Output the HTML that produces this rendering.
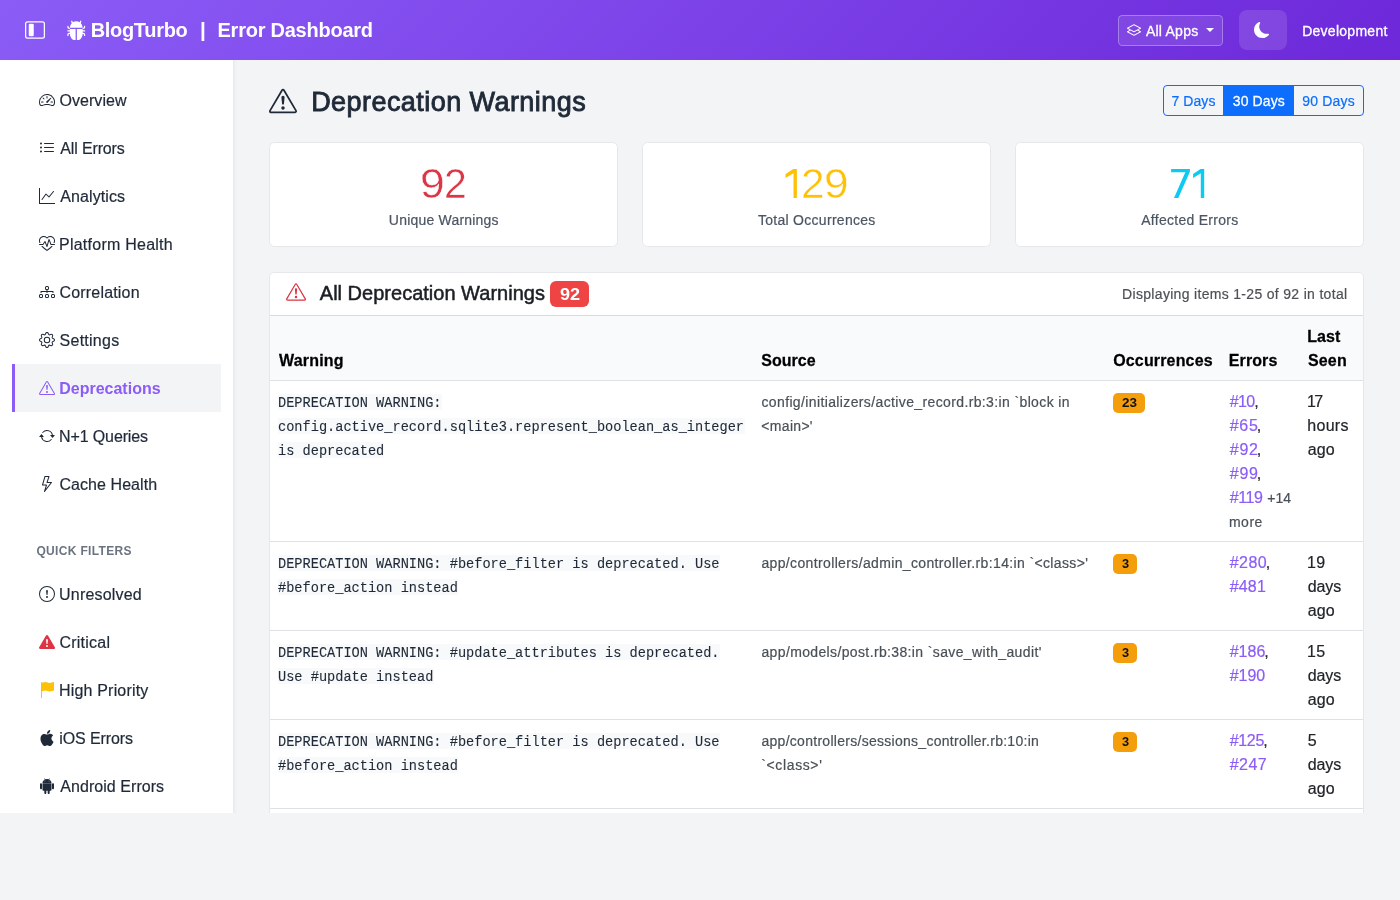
<!DOCTYPE html>
<html lang="en"><head><meta charset="utf-8"><title>Deprecation Warnings - Error Dashboard</title><style>
html,body{margin:0;padding:0;}
body{width:1400px;height:900px;overflow:hidden;background:#f3f4f6;font-family:"Liberation Sans",sans-serif;position:relative;}
#app{position:absolute;left:0;top:0;width:1400px;height:900px;will-change:transform;}
.t{position:absolute;white-space:pre;display:block;-webkit-text-stroke:0.2px;}
.i{position:absolute;display:block;}
.b{position:absolute;box-sizing:border-box;}
</style></head>
<body>
<div id="app">
<div class="b" style="left:0px;top:0px;width:1400px;height:60px;background:linear-gradient(135deg,#8b5cf6 0%,#6d28d9 100%);"></div>
<svg class="i" style="left:25px;top:20px;" width="20" height="20" viewBox="0 0 16 16" fill="#fff"><path d="M14 2a1 1 0 0 1 1 1v10a1 1 0 0 1-1 1H2a1 1 0 0 1-1-1V3a1 1 0 0 1 1-1zM2 1a2 2 0 0 0-2 2v10a2 2 0 0 0 2 2h12a2 2 0 0 0 2-2V3a2 2 0 0 0-2-2z"/><path d="M3 4a1 1 0 0 1 1-1h2a1 1 0 0 1 1 1v8a1 1 0 0 1-1 1H4a1 1 0 0 1-1-1z"/></svg>
<svg class="i" style="left:65.8px;top:19.7px;" width="20.5" height="20.5" viewBox="0 0 16 16" fill="#fff"><path d="M4.978.855a.5.5 0 1 0-.956.29l.41 1.352A5 5 0 0 0 3 6h10a5 5 0 0 0-1.432-3.503l.41-1.352a.5.5 0 1 0-.956-.29l-.291.956A5 5 0 0 0 8 1a5 5 0 0 0-2.731.811l-.29-.956z"/><path d="M13 6v1H8.5v8.975A5 5 0 0 0 13 11h.5a.5.5 0 0 1 .5.5v.5a.5.5 0 1 0 1 0v-.5a1.5 1.5 0 0 0-1.5-1.5H13V9h1.5a.5.5 0 0 0 0-1H13V7h.5A1.5 1.5 0 0 0 15 5.5V5a.5.5 0 0 0-1 0v.5a.5.5 0 0 1-.5.5zm-5.5 9.975V7H3V6h-.5a.5.5 0 0 1-.5-.5V5a.5.5 0 0 0-1 0v.5A1.5 1.5 0 0 0 2.5 7H3v1H1.5a.5.5 0 0 0 0 1H3v1h-.5A1.5 1.5 0 0 0 1 11.5v.5a.5.5 0 1 0 1 0v-.5a.5.5 0 0 1 .5-.5H3a5 5 0 0 0 4.5 4.975"/></svg>
<span class="t" style="left:90.70px;top:19px;font-size:20px;line-height:22px;color:#fff;font-weight:700;-webkit-text-stroke:0;letter-spacing:-0.313px;transform:scale(1.0000,1.0400);transform-origin:0 18px;">BlogTurbo</span>
<span class="t" style="left:200.04px;top:19px;font-size:20px;line-height:22px;color:#fff;font-weight:700;-webkit-text-stroke:0;transform:scale(1.0385,1.0400);transform-origin:0 18px;">|</span>
<span class="t" style="left:217.50px;top:19px;font-size:20px;line-height:22px;color:#fff;font-weight:700;-webkit-text-stroke:0;letter-spacing:-0.243px;transform:scale(1.0000,1.0400);transform-origin:0 18px;">Error Dashboard</span>
<div class="b" style="left:1118px;top:15px;width:105px;height:31px;background:rgba(255,255,255,.1);border:1px solid rgba(255,255,255,.3);border-radius:4.5px;"></div>
<svg class="i" style="left:1127.2px;top:23.4px;" width="14" height="14" viewBox="0 0 16 16" fill="#fff"><path d="M8.235 1.559a.5.5 0 0 0-.47 0l-7.5 4a.5.5 0 0 0 0 .882L3.188 8 .264 9.559a.5.5 0 0 0 0 .882l7.5 4a.5.5 0 0 0 .47 0l7.5-4a.5.5 0 0 0 0-.882L12.813 8l2.922-1.559a.5.5 0 0 0 0-.882zm3.515 7.008L14.438 10 8 13.433 1.562 10 4.25 8.567l3.515 1.874a.5.5 0 0 0 .47 0zM8 9.433 1.562 6 8 2.567 14.438 6z"/></svg>
<span class="t" style="left:1145.90px;top:23px;font-size:14px;line-height:16px;color:#fff;letter-spacing:0.240px;transform:scale(1.0000,1.0400);transform-origin:0 13px;-webkit-text-stroke:0.3px #fff;">All Apps</span>
<div class="b" style="left:1206.2px;top:28.2px;width:0;height:0;border-left:4px solid transparent;border-right:4px solid transparent;border-top:4px solid #fff;"></div>
<div class="b" style="left:1239px;top:10px;width:48px;height:40px;background:rgba(255,255,255,.12);border-radius:8px;"></div>
<svg class="i" style="left:1254.4px;top:22px;" width="16" height="16" viewBox="0 0 16 16" fill="#fff"><path d="M6 .278a.77.77 0 0 1 .08.858 7.2 7.2 0 0 0-.878 3.46c0 4.021 3.278 7.277 7.318 7.277q.792-.001 1.533-.16a.79.79 0 0 1 .81.316.73.73 0 0 1-.031.893A8.35 8.35 0 0 1 8.344 16C3.734 16 0 12.286 0 7.71 0 4.266 2.114 1.312 5.124.06A.75.75 0 0 1 6 .278"/></svg>
<span class="t" style="left:1302.18px;top:23px;font-size:14px;line-height:16px;color:#fff;letter-spacing:0.266px;transform:scale(1.0000,1.0400);transform-origin:0 13px;-webkit-text-stroke:0.3px #fff;">Development</span>
<div class="b" style="left:0px;top:60px;width:233px;height:753px;background:#fff;"></div>
<div class="b" style="left:233px;top:60px;width:4px;height:753px;background:linear-gradient(90deg,#e7e8eb 0%,#eff0f2 50%,#f3f4f6 100%);"></div>
<div class="b" style="left:12px;top:364px;width:209px;height:48px;background:#f3f4f6;border-left:3px solid #8b5cf6;"></div>
<svg class="i" style="left:38.75px;top:92px;" width="16" height="16" viewBox="0 0 16 16" fill="#1f2937"><path d="M8 4a.5.5 0 0 1 .5.5V6a.5.5 0 0 1-1 0V4.5A.5.5 0 0 1 8 4M3.732 5.732a.5.5 0 0 1 .707 0l.915.914a.5.5 0 1 1-.708.708l-.914-.915a.5.5 0 0 1 0-.707M2 10a.5.5 0 0 1 .5-.5h1.586a.5.5 0 0 1 0 1H2.5A.5.5 0 0 1 2 10m9.5 0a.5.5 0 0 1 .5-.5h1.5a.5.5 0 0 1 0 1H12a.5.5 0 0 1-.5-.5m.754-4.246a.39.39 0 0 0-.527-.02L7.547 9.31a.91.91 0 1 0 1.302 1.258l3.434-4.297a.39.39 0 0 0-.029-.518z"/><path fill-rule="evenodd" d="M0 10a8 8 0 1 1 15.547 2.661c-.442 1.253-1.845 1.602-2.932 1.25C11.309 13.488 9.475 13 8 13c-1.474 0-3.31.488-4.615.911-1.087.352-2.49.003-2.932-1.25A8 8 0 0 1 0 10m8-7a7 7 0 0 0-6.603 9.329c.203.575.923.876 1.68.63C4.397 12.533 6.358 12 8 12s3.604.532 4.923.96c.757.245 1.477-.056 1.68-.631A7 7 0 0 0 8 3"/></svg>
<span class="t" style="left:59.58px;top:92px;font-size:16px;line-height:17px;color:#1f2937;letter-spacing:0.029px;transform:scale(1.0000,1.0400);transform-origin:0 14px;">Overview</span>
<svg class="i" style="left:38.75px;top:140px;" width="16" height="16" viewBox="0 0 16 16" fill="#1f2937"><path fill-rule="evenodd" d="M5 11.5a.5.5 0 0 1 .5-.5h9a.5.5 0 0 1 0 1h-9a.5.5 0 0 1-.5-.5m0-4a.5.5 0 0 1 .5-.5h9a.5.5 0 0 1 0 1h-9a.5.5 0 0 1-.5-.5m0-4a.5.5 0 0 1 .5-.5h9a.5.5 0 0 1 0 1h-9a.5.5 0 0 1-.5-.5m-3 1a1 1 0 1 0 0-2 1 1 0 0 0 0 2m0 4a1 1 0 1 0 0-2 1 1 0 0 0 0 2m0 4a1 1 0 1 0 0-2 1 1 0 0 0 0 2"/></svg>
<span class="t" style="left:60.30px;top:140px;font-size:16px;line-height:17px;color:#1f2937;letter-spacing:-0.144px;transform:scale(1.0000,1.0400);transform-origin:0 14px;">All Errors</span>
<svg class="i" style="left:38.75px;top:188px;" width="16" height="16" viewBox="0 0 16 16" fill="#1f2937"><path fill-rule="evenodd" d="M0 0h1v15h15v1H0zm14.817 3.113a.5.5 0 0 1 .07.704l-4.5 5.5a.5.5 0 0 1-.74.037L7.06 6.767l-3.656 5.027a.5.5 0 0 1-.808-.588l4-5.5a.5.5 0 0 1 .758-.06l2.609 2.61 4.15-5.073a.5.5 0 0 1 .704-.07"/></svg>
<span class="t" style="left:60.30px;top:188px;font-size:16px;line-height:17px;color:#1f2937;letter-spacing:0.089px;transform:scale(1.0000,1.0400);transform-origin:0 14px;">Analytics</span>
<svg class="i" style="left:38.75px;top:236px;" width="16" height="16" viewBox="0 0 16 16" fill="#1f2937"><path d="m8 2.748-.717-.737C5.6.281 2.514.878 1.4 3.053.918 3.995.78 5.323 1.508 7H.43c-2.128-5.697 4.165-8.83 7.394-5.857q.09.083.176.171a3 3 0 0 1 .176-.17c3.23-2.974 9.522.159 7.394 5.856h-1.078c.728-1.677.59-3.005.108-3.947C13.486.878 10.4.28 8.717 2.01zM2.212 10h1.315C4.593 11.183 6.05 12.458 8 13.795c1.949-1.337 3.407-2.612 4.473-3.795h1.315c-1.265 1.566-3.14 3.25-5.788 5-2.648-1.75-4.523-3.434-5.788-5"/><path d="M10.464 3.314a.5.5 0 0 0-.945.049L7.921 8.956 6.464 5.314a.5.5 0 0 0-.88-.091L3.732 8H.5a.5.5 0 0 0 0 1H4a.5.5 0 0 0 .416-.223l1.473-2.209 1.647 4.118a.5.5 0 0 0 .945-.049l1.598-5.593 1.457 3.642A.5.5 0 0 0 12 9h3.5a.5.5 0 0 0 0-1h-3.162z"/></svg>
<span class="t" style="left:59.02px;top:236px;font-size:16px;line-height:17px;color:#1f2937;letter-spacing:0.243px;transform:scale(1.0000,1.0400);transform-origin:0 14px;">Platform Health</span>
<svg class="i" style="left:38.75px;top:284px;" width="16" height="16" viewBox="0 0 16 16" fill="#1f2937"><path fill-rule="evenodd" d="M6 3.5A1.5 1.5 0 0 1 7.5 2h1A1.5 1.5 0 0 1 10 3.5v1A1.5 1.5 0 0 1 8.5 6v1H14a.5.5 0 0 1 .5.5v1a.5.5 0 0 1-1 0V8h-5v.5a.5.5 0 0 1-1 0V8h-5v.5a.5.5 0 0 1-1 0v-1A.5.5 0 0 1 2 7h5.5V6A1.5 1.5 0 0 1 6 4.5zM8.5 5a.5.5 0 0 0 .5-.5v-1a.5.5 0 0 0-.5-.5h-1a.5.5 0 0 0-.5.5v1a.5.5 0 0 0 .5.5zM0 11.5A1.5 1.5 0 0 1 1.5 10h1A1.5 1.5 0 0 1 4 11.5v1A1.5 1.5 0 0 1 2.5 14h-1A1.5 1.5 0 0 1 0 12.5zm1.5-.5a.5.5 0 0 0-.5.5v1a.5.5 0 0 0 .5.5h1a.5.5 0 0 0 .5-.5v-1a.5.5 0 0 0-.5-.5zm4.5.5A1.5 1.5 0 0 1 7.5 10h1a1.5 1.5 0 0 1 1.5 1.5v1A1.5 1.5 0 0 1 8.5 14h-1A1.5 1.5 0 0 1 6 12.5zm1.5-.5a.5.5 0 0 0-.5.5v1a.5.5 0 0 0 .5.5h1a.5.5 0 0 0 .5-.5v-1a.5.5 0 0 0-.5-.5zm4.5.5a1.5 1.5 0 0 1 1.5-1.5h1a1.5 1.5 0 0 1 1.5 1.5v1a1.5 1.5 0 0 1-1.5 1.5h-1a1.5 1.5 0 0 1-1.5-1.5zm1.5-.5a.5.5 0 0 0-.5.5v1a.5.5 0 0 0 .5.5h1a.5.5 0 0 0 .5-.5v-1a.5.5 0 0 0-.5-.5z"/></svg>
<span class="t" style="left:59.50px;top:284px;font-size:16px;line-height:17px;color:#1f2937;letter-spacing:0.182px;transform:scale(1.0000,1.0400);transform-origin:0 14px;">Correlation</span>
<svg class="i" style="left:38.75px;top:332px;" width="16" height="16" viewBox="0 0 16 16" fill="#1f2937"><path d="M8 4.754a3.246 3.246 0 1 0 0 6.492 3.246 3.246 0 0 0 0-6.492M5.754 8a2.246 2.246 0 1 1 4.492 0 2.246 2.246 0 0 1-4.492 0"/><path d="M9.796 1.343c-.527-1.79-3.065-1.79-3.592 0l-.094.319a.873.873 0 0 1-1.255.52l-.292-.16c-1.64-.892-3.433.902-2.54 2.541l.159.292a.873.873 0 0 1-.52 1.255l-.319.094c-1.79.527-1.79 3.065 0 3.592l.319.094a.873.873 0 0 1 .52 1.255l-.16.292c-.892 1.64.901 3.434 2.541 2.54l.292-.159a.873.873 0 0 1 1.255.52l.094.319c.527 1.79 3.065 1.79 3.592 0l.094-.319a.873.873 0 0 1 1.255-.52l.292.16c1.64.893 3.434-.902 2.54-2.541l-.159-.292a.873.873 0 0 1 .52-1.255l.319-.094c1.79-.527 1.79-3.065 0-3.592l-.319-.094a.873.873 0 0 1-.52-1.255l.16-.292c.893-1.64-.902-3.433-2.541-2.54l-.292.159a.873.873 0 0 1-1.255-.52zm-2.633.283c.246-.835 1.428-.835 1.674 0l.094.319a1.873 1.873 0 0 0 2.693 1.115l.291-.16c.764-.415 1.6.42 1.184 1.185l-.159.292a1.873 1.873 0 0 0 1.116 2.692l.318.094c.835.246.835 1.428 0 1.674l-.319.094a1.873 1.873 0 0 0-1.115 2.693l.16.291c.415.764-.42 1.6-1.185 1.184l-.291-.159a1.873 1.873 0 0 0-2.693 1.116l-.094.318c-.246.835-1.428.835-1.674 0l-.094-.319a1.873 1.873 0 0 0-2.692-1.115l-.292.16c-.764.415-1.6-.42-1.184-1.185l.159-.291A1.873 1.873 0 0 0 1.945 8.93l-.319-.094c-.835-.246-.835-1.428 0-1.674l.319-.094A1.873 1.873 0 0 0 3.06 4.377l-.16-.292c-.415-.764.42-1.6 1.185-1.184l.292.159a1.873 1.873 0 0 0 2.692-1.115z"/></svg>
<span class="t" style="left:59.58px;top:332px;font-size:16px;line-height:17px;color:#1f2937;letter-spacing:0.249px;transform:scale(1.0000,1.0400);transform-origin:0 14px;">Settings</span>
<svg class="i" style="left:38.75px;top:380px;" width="16" height="16" viewBox="0 0 16 16" fill="#8b5cf6"><path d="M7.938 2.016A.13.13 0 0 1 8.002 2a.13.13 0 0 1 .063.016.15.15 0 0 1 .054.057l6.857 11.667c.036.06.035.124.002.183a.2.2 0 0 1-.054.06.1.1 0 0 1-.066.017H1.146a.1.1 0 0 1-.066-.017.2.2 0 0 1-.054-.06.18.18 0 0 1 .002-.183L7.884 2.073a.15.15 0 0 1 .054-.057m1.044-.45a1.13 1.13 0 0 0-1.96 0L.165 13.233c-.457.778.091 1.767.98 1.767h13.713c.889 0 1.438-.99.98-1.767z"/><path d="M7.002 12a1 1 0 1 1 2 0 1 1 0 0 1-2 0M7.1 5.995a.905.905 0 1 1 1.8 0l-.35 3.507a.552.552 0 0 1-1.1 0z"/></svg>
<span class="t" style="left:59.26px;top:380px;font-size:16px;line-height:17px;color:#8b5cf6;font-weight:700;-webkit-text-stroke:0;letter-spacing:-0.005px;transform:scale(1.0000,1.0400);transform-origin:0 14px;">Deprecations</span>
<svg class="i" style="left:38.75px;top:428px;" width="16" height="16" viewBox="0 0 16 16" fill="#1f2937"><path d="M11.534 7h3.932a.25.25 0 0 1 .192.41l-1.966 2.36a.25.25 0 0 1-.384 0l-1.966-2.36a.25.25 0 0 1 .192-.41m-11 2h3.932a.25.25 0 0 0 .192-.41L2.692 6.23a.25.25 0 0 0-.384 0L.342 8.59A.25.25 0 0 0 .534 9"/><path fill-rule="evenodd" d="M8 3c-1.552 0-2.94.707-3.857 1.818a.5.5 0 1 1-.771-.636A6.002 6.002 0 0 1 13.917 7H12.9A5 5 0 0 0 8 3M3.1 9a5.002 5.002 0 0 0 8.757 2.182.5.5 0 1 1 .771.636A6.002 6.002 0 0 1 2.083 9z"/></svg>
<span class="t" style="left:59.02px;top:428px;font-size:16px;line-height:17px;color:#1f2937;letter-spacing:-0.120px;transform:scale(1.0000,1.0400);transform-origin:0 14px;">N+1 Queries</span>
<svg class="i" style="left:38.75px;top:476px;" width="16" height="16" viewBox="0 0 16 16" fill="#1f2937"><path d="M5.52.359A.5.5 0 0 1 6 0h4a.5.5 0 0 1 .474.658L8.694 6H12.5a.5.5 0 0 1 .395.807l-7 9a.5.5 0 0 1-.873-.454L6.823 9.5H3.5a.5.5 0 0 1-.48-.641zM6.374 1 4.168 8.5H7.5a.5.5 0 0 1 .478.647L6.78 13.04 11.478 7H8a.5.5 0 0 1-.474-.658L9.306 1z"/></svg>
<span class="t" style="left:59.50px;top:476px;font-size:16px;line-height:17px;color:#1f2937;letter-spacing:0.055px;transform:scale(1.0000,1.0400);transform-origin:0 14px;">Cache Health</span>
<span class="t" style="left:36.42px;top:544px;font-size:12px;line-height:14px;color:#6b7280;font-weight:700;-webkit-text-stroke:0;letter-spacing:0.335px;transform:scale(1.0000,1.0400);transform-origin:0 11px;">QUICK FILTERS</span>
<svg class="i" style="left:38.75px;top:586px;" width="16" height="16" viewBox="0 0 16 16" fill="#1f2937"><path d="M8 15A7 7 0 1 1 8 1a7 7 0 0 1 0 14m0 1A8 8 0 1 0 8 0a8 8 0 0 0 0 16"/><path d="M7.002 11a1 1 0 1 1 2 0 1 1 0 0 1-2 0M7.1 4.995a.905.905 0 1 1 1.8 0l-.35 3.507a.552.552 0 0 1-1.1 0z"/></svg>
<span class="t" style="left:59.10px;top:586px;font-size:16px;line-height:17px;color:#1f2937;letter-spacing:0.176px;transform:scale(1.0000,1.0400);transform-origin:0 14px;">Unresolved</span>
<svg class="i" style="left:38.75px;top:634px;" width="16" height="16" viewBox="0 0 16 16" fill="#dc3545"><path d="M8.982 1.566a1.13 1.13 0 0 0-1.96 0L.165 13.233c-.457.778.091 1.767.98 1.767h13.713c.889 0 1.438-.99.98-1.767zM8 5c.535 0 .954.462.9.995l-.35 3.507a.552.552 0 0 1-1.1 0L7.1 5.995A.905.905 0 0 1 8 5m.002 6a1 1 0 1 1 0 2 1 1 0 0 1 0-2"/></svg>
<span class="t" style="left:59.50px;top:634px;font-size:16px;line-height:17px;color:#1f2937;letter-spacing:0.226px;transform:scale(1.0000,1.0400);transform-origin:0 14px;">Critical</span>
<svg class="i" style="left:38.75px;top:682px;" width="16" height="16" viewBox="0 0 16 16" fill="#ffc107"><path d="M14.778.085A.5.5 0 0 1 15 .5V8a.5.5 0 0 1-.314.464L14.5 8l.186.464-.003.001-.006.003-.023.009a12 12 0 0 1-.397.15c-.264.095-.631.223-1.047.35-.816.252-1.879.523-2.71.523-.847 0-1.548-.28-2.158-.525l-.028-.01C7.68 8.71 7.14 8.5 6.5 8.5c-.7 0-1.638.23-2.437.477A20 20 0 0 0 3 9.342V15.5a.5.5 0 0 1-1 0V.5a.5.5 0 0 1 1 0v.282c.226-.079.496-.17.79-.26C4.606.272 5.67 0 6.5 0c.84 0 1.524.277 2.121.519l.043.018C9.286.788 9.828 1 10.5 1c.7 0 1.638-.23 2.437-.477a20 20 0 0 0 1.349-.476l.019-.007.004-.002h.001"/></svg>
<span class="t" style="left:59.02px;top:682px;font-size:16px;line-height:17px;color:#1f2937;letter-spacing:0.180px;transform:scale(1.0000,1.0400);transform-origin:0 14px;">High Priority</span>
<svg class="i" style="left:38.75px;top:730px;" width="16" height="16" viewBox="0 0 16 16" fill="#1f2937"><path d="M11.182.008C11.148-.03 9.923.023 8.857 1.18c-1.066 1.156-.902 2.482-.878 2.516s1.52.087 2.475-1.258.762-2.391.728-2.43m3.314 11.733c-.048-.096-2.325-1.234-2.113-3.422s1.675-2.789 1.698-2.854-.597-.79-1.254-1.157a3.7 3.7 0 0 0-1.563-.434c-.108-.003-.483-.095-1.254.116-.508.139-1.653.589-1.968.607-.316.018-1.256-.522-2.267-.665-.647-.125-1.333.131-1.824.328-.49.196-1.422.754-2.074 2.237-.652 1.482-.311 3.83-.067 4.56s.625 1.924 1.273 2.796c.576.984 1.34 1.667 1.659 1.899s1.219.386 1.843.067c.502-.308 1.408-.485 1.766-.472.357.013 1.061.154 1.782.539.571.197 1.111.115 1.652-.105.541-.221 1.324-1.059 2.238-2.758q.52-1.185.473-1.282"/></svg>
<span class="t" style="left:59.26px;top:730px;font-size:16px;line-height:17px;color:#1f2937;letter-spacing:-0.116px;transform:scale(1.0000,1.0400);transform-origin:0 14px;">iOS Errors</span>
<svg class="i" style="left:38.75px;top:778px;" width="16" height="16" viewBox="0 0 16 16" fill="#1f2937"><path d="m10.213 1.471.691-1.26q.069-.124-.048-.192-.128-.057-.195.058l-.7 1.27A4.8 4.8 0 0 0 8.005.941q-1.032 0-1.956.404l-.7-1.27Q5.281-.037 5.154.02q-.117.069-.049.193l.691 1.259a4.25 4.25 0 0 0-1.673 1.476A3.7 3.7 0 0 0 3.5 5.02h9q0-1.125-.623-2.072a4.27 4.27 0 0 0-1.664-1.476ZM6.22 3.303a.37.37 0 0 1-.267.11.35.35 0 0 1-.263-.11.37.37 0 0 1-.107-.264.37.37 0 0 1 .107-.265.35.35 0 0 1 .263-.11q.155 0 .267.11a.36.36 0 0 1 .112.265.36.36 0 0 1-.112.264m4.101 0a.35.35 0 0 1-.262.11.37.37 0 0 1-.268-.11.36.36 0 0 1-.112-.264q0-.154.112-.265a.37.37 0 0 1 .268-.11q.155 0 .262.11a.37.37 0 0 1 .107.265q0 .153-.107.264M3.5 11.77q0 .441.311.75.311.306.76.307h.758l.01 2.182q0 .414.292.703a.96.96 0 0 0 .7.288.97.97 0 0 0 .71-.288.95.95 0 0 0 .292-.703v-2.182h1.343v2.182q0 .414.292.703a.97.97 0 0 0 .71.288.97.97 0 0 0 .71-.288.95.95 0 0 0 .292-.703v-2.182h.76q.436 0 .749-.308.31-.307.311-.75V5.365h-9zm10.495-6.587a.98.98 0 0 0-.702.278.9.9 0 0 0-.293.685v4.063q0 .406.293.69a.97.97 0 0 0 .702.284q.42 0 .712-.284a.92.92 0 0 0 .293-.69V6.146a.9.9 0 0 0-.293-.685 1 1 0 0 0-.712-.278m-12.702.283a1 1 0 0 1 .712-.283q.41 0 .702.283a.9.9 0 0 1 .293.68v4.063a.93.93 0 0 1-.288.69.97.97 0 0 1-.707.284 1 1 0 0 1-.712-.284.92.92 0 0 1-.293-.69V6.146q0-.396.293-.68"/></svg>
<span class="t" style="left:60.30px;top:778px;font-size:16px;line-height:17px;color:#1f2937;letter-spacing:0.049px;transform:scale(1.0000,1.0400);transform-origin:0 14px;">Android Errors</span>
<svg class="i" style="left:269.2px;top:86.9px;" width="28" height="28" viewBox="0 0 16 16" fill="#1f2937"><path d="M7.938 2.016A.13.13 0 0 1 8.002 2a.13.13 0 0 1 .063.016.15.15 0 0 1 .054.057l6.857 11.667c.036.06.035.124.002.183a.2.2 0 0 1-.054.06.1.1 0 0 1-.066.017H1.146a.1.1 0 0 1-.066-.017.2.2 0 0 1-.054-.06.18.18 0 0 1 .002-.183L7.884 2.073a.15.15 0 0 1 .054-.057m1.044-.45a1.13 1.13 0 0 0-1.96 0L.165 13.233c-.457.778.091 1.767.98 1.767h13.713c.889 0 1.438-.99.98-1.767z"/><path d="M7.002 12a1 1 0 1 1 2 0 1 1 0 0 1-2 0M7.1 5.995a.905.905 0 1 1 1.8 0l-.35 3.507a.552.552 0 0 1-1.1 0z"/></svg>
<span class="t" style="left:311.14px;top:87px;font-size:27px;line-height:30px;color:#1f2937;letter-spacing:0.443px;transform:scale(1.0000,1.0400);transform-origin:0 24px;-webkit-text-stroke:0.85px #1f2937;">Deprecation Warnings</span>
<div class="b" style="left:1163px;top:85px;width:201px;height:31px;border:1px solid #0d6efd;border-radius:4px;"></div>
<div class="b" style="left:1223px;top:85px;width:71px;height:31px;background:#0d6efd;"></div>
<span class="t" style="left:1171.50px;top:93px;font-size:14px;line-height:16px;color:#0d6efd;letter-spacing:0.070px;transform:scale(1.0000,1.0400);transform-origin:0 13px;">7 Days</span>
<span class="t" style="left:1232.81px;top:93px;font-size:14px;line-height:16px;color:#fff;letter-spacing:0.117px;transform:scale(1.0000,1.0400);transform-origin:0 13px;-webkit-text-stroke:0.25px #fff;">30 Days</span>
<span class="t" style="left:1302.17px;top:93px;font-size:14px;line-height:16px;color:#0d6efd;letter-spacing:0.190px;transform:scale(1.0000,1.0400);transform-origin:0 13px;">90 Days</span>
<div class="b" style="left:269px;top:142px;width:349px;height:105px;background:#fff;border:1px solid #e5e7eb;border-radius:5.5px;"></div>
<div class="b" style="left:642px;top:142px;width:349px;height:105px;background:#fff;border:1px solid #e5e7eb;border-radius:5.5px;"></div>
<div class="b" style="left:1015px;top:142px;width:349px;height:105px;background:#fff;border:1px solid #e5e7eb;border-radius:5.5px;"></div>
<span class="t" style="left:420.10px;top:159px;font-size:42.7px;line-height:48px;color:#dc3545;transform:scale(1.0425,1.0000);transform-origin:0 39px;-webkit-text-stroke:0.5px #fff;">9</span>
<span class="t" style="left:444.35px;top:159px;font-size:42.7px;line-height:48px;color:#dc3545;transform:scale(0.9622,1.0000);transform-origin:0 39px;-webkit-text-stroke:0.5px #fff;">2</span>
<svg class="i" style="left:0;top:0" width="1400" height="260" viewBox="0 0 1400 260"><polygon points="796.90,168.90 793.20,168.90 785.60,174.00 785.60,178.10 793.50,173.30 793.50,198.00 796.90,198.00" fill="#ffc107"/></svg>
<span class="t" style="left:801.08px;top:159px;font-size:42.7px;line-height:48px;color:#ffc107;transform:scale(0.9928,1.0000);transform-origin:0 39px;-webkit-text-stroke:0.5px #fff;">2</span>
<span class="t" style="left:824.21px;top:159px;font-size:42.7px;line-height:48px;color:#ffc107;transform:scale(1.0375,1.0000);transform-origin:0 39px;-webkit-text-stroke:0.5px #fff;">9</span>
<svg class="i" style="left:0;top:0" width="1400" height="260" viewBox="0 0 1400 260"><polygon points="1171.10,168.90 1189.90,168.90 1189.90,171.70 1178.30,198.00 1174.00,198.00 1185.30,172.20 1171.10,172.20" fill="#0dcaf0"/></svg>
<svg class="i" style="left:0;top:0" width="1400" height="260" viewBox="0 0 1400 260"><polygon points="1204.20,168.90 1200.50,168.90 1193.10,174.00 1193.10,178.10 1200.80,173.30 1200.80,198.00 1204.20,198.00" fill="#0dcaf0"/></svg>
<span class="t" style="left:388.85px;top:212px;font-size:14px;line-height:16px;color:#4b5563;letter-spacing:0.204px;transform:scale(1.0000,1.0400);transform-origin:0 13px;">Unique Warnings</span>
<span class="t" style="left:757.92px;top:212px;font-size:14px;line-height:16px;color:#4b5563;letter-spacing:0.289px;transform:scale(1.0000,1.0400);transform-origin:0 13px;">Total Occurrences</span>
<span class="t" style="left:1141.20px;top:212px;font-size:14px;line-height:16px;color:#4b5563;letter-spacing:0.278px;transform:scale(1.0000,1.0400);transform-origin:0 13px;">Affected Errors</span>
<div class="b" style="left:269px;top:272px;width:1095px;height:560px;background:#fff;border:1px solid #e5e7eb;border-radius:5px;"></div>
<div class="b" style="left:270px;top:316px;width:1093px;height:65px;background:#f9fafb;"></div>
<div class="b" style="left:270px;top:315px;width:1093px;height:1px;background:#d9dbde;"></div>
<div class="b" style="left:270px;top:380px;width:1093px;height:1px;background:#dee2e6;"></div>
<div class="b" style="left:270px;top:541px;width:1093px;height:1px;background:#dee2e6;"></div>
<div class="b" style="left:270px;top:630px;width:1093px;height:1px;background:#dee2e6;"></div>
<div class="b" style="left:270px;top:719px;width:1093px;height:1px;background:#dee2e6;"></div>
<div class="b" style="left:270px;top:808px;width:1093px;height:1px;background:#dee2e6;"></div>
<svg class="i" style="left:286px;top:282px;" width="20" height="20" viewBox="0 0 16 16" fill="#dc3545"><path d="M7.938 2.016A.13.13 0 0 1 8.002 2a.13.13 0 0 1 .063.016.15.15 0 0 1 .054.057l6.857 11.667c.036.06.035.124.002.183a.2.2 0 0 1-.054.06.1.1 0 0 1-.066.017H1.146a.1.1 0 0 1-.066-.017.2.2 0 0 1-.054-.06.18.18 0 0 1 .002-.183L7.884 2.073a.15.15 0 0 1 .054-.057m1.044-.45a1.13 1.13 0 0 0-1.96 0L.165 13.233c-.457.778.091 1.767.98 1.767h13.713c.889 0 1.438-.99.98-1.767z"/><path d="M7.002 12a1 1 0 1 1 2 0 1 1 0 0 1-2 0M7.1 5.995a.905.905 0 1 1 1.8 0l-.35 3.507a.552.552 0 0 1-1.1 0z"/></svg>
<span class="t" style="left:319.80px;top:282px;font-size:20px;line-height:22px;color:#1b1f24;letter-spacing:0.009px;transform:scale(1.0000,1.0400);transform-origin:0 18px;-webkit-text-stroke:0.5px #1b1f24;">All Deprecation Warnings</span>
<div class="b" style="left:550px;top:281px;width:39px;height:26px;background:#ef4444;border-radius:6px;"></div>
<span class="t" style="left:559.76px;top:286px;font-size:15px;line-height:17px;color:#fff;font-weight:700;-webkit-text-stroke:0;transform:scale(1.2057,1.0400);transform-origin:0 14px;">92</span>
<span class="t" style="left:1122.08px;top:286px;font-size:14px;line-height:16px;color:#4d5156;letter-spacing:0.316px;transform:scale(1.0000,1.0400);transform-origin:0 13px;">Displaying items 1-25 of 92 in total</span>
<span class="t" style="left:279.00px;top:352px;font-size:16px;line-height:17px;color:#000;font-weight:700;-webkit-text-stroke:0;letter-spacing:0.180px;transform:scale(1.0000,1.0400);transform-origin:0 14px;-webkit-text-stroke:0.25px #000;">Warning</span>
<span class="t" style="left:761.20px;top:352px;font-size:16px;line-height:17px;color:#000;font-weight:700;-webkit-text-stroke:0;letter-spacing:0.028px;transform:scale(1.0000,1.0400);transform-origin:0 14px;-webkit-text-stroke:0.25px #000;">Source</span>
<span class="t" style="left:1113.16px;top:352px;font-size:16px;line-height:17px;color:#000;font-weight:700;-webkit-text-stroke:0;letter-spacing:0.166px;transform:scale(1.0000,1.0400);transform-origin:0 14px;-webkit-text-stroke:0.25px #000;">Occurrences</span>
<span class="t" style="left:1228.86px;top:352px;font-size:16px;line-height:17px;color:#000;font-weight:700;-webkit-text-stroke:0;letter-spacing:0.080px;transform:scale(1.0000,1.0400);transform-origin:0 14px;-webkit-text-stroke:0.25px #000;">Errors</span>
<span class="t" style="left:1307.26px;top:328px;font-size:16px;line-height:17px;color:#000;font-weight:700;-webkit-text-stroke:0;letter-spacing:0.080px;transform:scale(1.0000,1.0400);transform-origin:0 14px;-webkit-text-stroke:0.25px #000;">Last</span>
<span class="t" style="left:1307.90px;top:352px;font-size:16px;line-height:17px;color:#000;font-weight:700;-webkit-text-stroke:0;letter-spacing:0.173px;transform:scale(1.0000,1.0400);transform-origin:0 14px;-webkit-text-stroke:0.25px #000;">Seen</span>
<div class="b" style="left:278px;top:394px;width:163.72px;height:16px;background:#f8f9fa;"></div>
<span class="t" style="left:278.00px;top:396px;font-size:13.64px;line-height:15px;color:#1f2937;font-family:'Liberation Mono',monospace;transform:scale(1.0000,1.0500);transform-origin:0 11px;-webkit-text-stroke:0.1px #1f2937;">DEPRECATION WARNING:</span>
<div class="b" style="left:278px;top:418px;width:466.602px;height:16px;background:#f8f9fa;"></div>
<span class="t" style="left:278.00px;top:420px;font-size:13.64px;line-height:15px;color:#1f2937;font-family:'Liberation Mono',monospace;transform:scale(1.0000,1.0500);transform-origin:0 11px;-webkit-text-stroke:0.1px #1f2937;">config.active_record.sqlite3.represent_boolean_as_integer</span>
<div class="b" style="left:278px;top:442px;width:106.418px;height:16px;background:#f8f9fa;"></div>
<span class="t" style="left:278.00px;top:444px;font-size:13.64px;line-height:15px;color:#1f2937;font-family:'Liberation Mono',monospace;transform:scale(1.0000,1.0500);transform-origin:0 11px;-webkit-text-stroke:0.1px #1f2937;">is deprecated</span>
<span class="t" style="left:761.44px;top:394px;font-size:14px;line-height:16px;color:#495057;letter-spacing:0.373px;transform:scale(1.0000,1.0400);transform-origin:0 13px;">config/initializers/active_record.rb:3:in `block in</span>
<span class="t" style="left:761.37px;top:418px;font-size:14px;line-height:16px;color:#495057;letter-spacing:0.302px;transform:scale(1.0000,1.0400);transform-origin:0 13px;">&lt;main&gt;'</span>
<div class="b" style="left:1113px;top:393px;width:32px;height:20px;background:#f59e0b;border-radius:5px;"></div>
<span class="t" style="left:1121.50px;top:396px;font-size:12px;line-height:14px;color:#111;font-weight:700;-webkit-text-stroke:0;transform:scale(1.1244,1.0400);transform-origin:0 11px;">23</span>
<span class="t" style="left:1229.70px;top:393px;font-size:16px;line-height:17px;color:#8b5cf6;letter-spacing:-0.590px;transform:scale(1.0000,1.0400);transform-origin:0 14px;">#10</span>
<span class="t" style="left:1254.26px;top:393px;font-size:16px;line-height:17px;color:#212529;transform:scale(1.0000,1.0400);transform-origin:0 14px;">,</span>
<span class="t" style="left:1229.70px;top:417px;font-size:16px;line-height:17px;color:#8b5cf6;letter-spacing:0.750px;transform:scale(1.0000,1.0400);transform-origin:0 14px;">#65</span>
<span class="t" style="left:1256.86px;top:417px;font-size:16px;line-height:17px;color:#212529;transform:scale(1.0000,1.0400);transform-origin:0 14px;">,</span>
<span class="t" style="left:1229.70px;top:441px;font-size:16px;line-height:17px;color:#8b5cf6;letter-spacing:0.790px;transform:scale(1.0000,1.0400);transform-origin:0 14px;">#92</span>
<span class="t" style="left:1256.86px;top:441px;font-size:16px;line-height:17px;color:#212529;transform:scale(1.0000,1.0400);transform-origin:0 14px;">,</span>
<span class="t" style="left:1229.70px;top:465px;font-size:16px;line-height:17px;color:#8b5cf6;letter-spacing:0.790px;transform:scale(1.0000,1.0400);transform-origin:0 14px;">#99</span>
<span class="t" style="left:1256.86px;top:465px;font-size:16px;line-height:17px;color:#212529;transform:scale(1.0000,1.0400);transform-origin:0 14px;">,</span>
<span class="t" style="left:1229.70px;top:489px;font-size:16px;line-height:17px;color:#8b5cf6;letter-spacing:-0.360px;transform:scale(1.0000,1.0400);transform-origin:0 14px;">#119</span>
<span class="t" style="left:1267.37px;top:490px;font-size:14px;line-height:16px;color:#495057;letter-spacing:-0.075px;transform:scale(1.0000,1.0400);transform-origin:0 13px;">+14</span>
<span class="t" style="left:1228.99px;top:514px;font-size:14px;line-height:16px;color:#495057;letter-spacing:0.473px;transform:scale(1.0000,1.0400);transform-origin:0 13px;">more</span>
<span class="t" style="left:1307.10px;top:393px;font-size:16px;line-height:17px;color:#212529;letter-spacing:-1.640px;transform:scale(1.0000,1.0400);transform-origin:0 14px;">17</span>
<span class="t" style="left:1307.26px;top:417px;font-size:16px;line-height:17px;color:#212529;letter-spacing:0.300px;transform:scale(1.0000,1.0400);transform-origin:0 14px;">hours</span>
<span class="t" style="left:1307.66px;top:441px;font-size:16px;line-height:17px;color:#212529;letter-spacing:0.170px;transform:scale(1.0000,1.0400);transform-origin:0 14px;">ago</span>
<div class="b" style="left:278px;top:555px;width:442.044px;height:16px;background:#f8f9fa;"></div>
<span class="t" style="left:278.00px;top:557px;font-size:13.64px;line-height:15px;color:#1f2937;font-family:'Liberation Mono',monospace;transform:scale(1.0000,1.0500);transform-origin:0 11px;-webkit-text-stroke:0.1px #1f2937;">DEPRECATION WARNING: #before_filter is deprecated. Use</span>
<div class="b" style="left:278px;top:579px;width:180.09199999999998px;height:16px;background:#f8f9fa;"></div>
<span class="t" style="left:278.00px;top:581px;font-size:13.64px;line-height:15px;color:#1f2937;font-family:'Liberation Mono',monospace;transform:scale(1.0000,1.0500);transform-origin:0 11px;-webkit-text-stroke:0.1px #1f2937;">#before_action instead</span>
<span class="t" style="left:761.44px;top:555px;font-size:14px;line-height:16px;color:#495057;letter-spacing:0.358px;transform:scale(1.0000,1.0400);transform-origin:0 13px;">app/controllers/admin_controller.rb:14:in `&lt;class&gt;'</span>
<div class="b" style="left:1113px;top:554px;width:24px;height:20px;background:#f59e0b;border-radius:5px;"></div>
<span class="t" style="left:1121.54px;top:557px;font-size:12px;line-height:14px;color:#111;font-weight:700;-webkit-text-stroke:0;transform:scale(1.0667,1.0400);transform-origin:0 11px;">3</span>
<span class="t" style="left:1229.70px;top:554px;font-size:16px;line-height:17px;color:#8b5cf6;letter-spacing:0.487px;transform:scale(1.0000,1.0400);transform-origin:0 14px;">#280</span>
<span class="t" style="left:1265.86px;top:554px;font-size:16px;line-height:17px;color:#212529;transform:scale(1.0000,1.0400);transform-origin:0 14px;">,</span>
<span class="t" style="left:1229.70px;top:578px;font-size:16px;line-height:17px;color:#8b5cf6;letter-spacing:0.173px;transform:scale(1.0000,1.0400);transform-origin:0 14px;">#481</span>
<span class="t" style="left:1307.10px;top:554px;font-size:16px;line-height:17px;color:#212529;letter-spacing:0.360px;transform:scale(1.0000,1.0400);transform-origin:0 14px;">19</span>
<span class="t" style="left:1307.66px;top:578px;font-size:16px;line-height:17px;color:#212529;letter-spacing:-0.053px;transform:scale(1.0000,1.0400);transform-origin:0 14px;">days</span>
<span class="t" style="left:1307.66px;top:602px;font-size:16px;line-height:17px;color:#212529;letter-spacing:0.170px;transform:scale(1.0000,1.0400);transform-origin:0 14px;">ago</span>
<div class="b" style="left:278px;top:644px;width:442.044px;height:16px;background:#f8f9fa;"></div>
<span class="t" style="left:278.00px;top:646px;font-size:13.64px;line-height:15px;color:#1f2937;font-family:'Liberation Mono',monospace;transform:scale(1.0000,1.0500);transform-origin:0 11px;-webkit-text-stroke:0.1px #1f2937;">DEPRECATION WARNING: #update_attributes is deprecated.</span>
<div class="b" style="left:278px;top:668px;width:155.534px;height:16px;background:#f8f9fa;"></div>
<span class="t" style="left:278.00px;top:670px;font-size:13.64px;line-height:15px;color:#1f2937;font-family:'Liberation Mono',monospace;transform:scale(1.0000,1.0500);transform-origin:0 11px;-webkit-text-stroke:0.1px #1f2937;">Use #update instead</span>
<span class="t" style="left:761.44px;top:644px;font-size:14px;line-height:16px;color:#495057;letter-spacing:0.364px;transform:scale(1.0000,1.0400);transform-origin:0 13px;">app/models/post.rb:38:in `save_with_audit'</span>
<div class="b" style="left:1113px;top:643px;width:24px;height:20px;background:#f59e0b;border-radius:5px;"></div>
<span class="t" style="left:1121.54px;top:646px;font-size:12px;line-height:14px;color:#111;font-weight:700;-webkit-text-stroke:0;transform:scale(1.0667,1.0400);transform-origin:0 11px;">3</span>
<span class="t" style="left:1229.70px;top:643px;font-size:16px;line-height:17px;color:#8b5cf6;letter-spacing:0.013px;transform:scale(1.0000,1.0400);transform-origin:0 14px;">#186</span>
<span class="t" style="left:1264.36px;top:643px;font-size:16px;line-height:17px;color:#212529;transform:scale(1.0000,1.0400);transform-origin:0 14px;">,</span>
<span class="t" style="left:1229.70px;top:667px;font-size:16px;line-height:17px;color:#8b5cf6;letter-spacing:-0.013px;transform:scale(1.0000,1.0400);transform-origin:0 14px;">#190</span>
<span class="t" style="left:1307.10px;top:643px;font-size:16px;line-height:17px;color:#212529;letter-spacing:0.280px;transform:scale(1.0000,1.0400);transform-origin:0 14px;">15</span>
<span class="t" style="left:1307.66px;top:667px;font-size:16px;line-height:17px;color:#212529;letter-spacing:-0.053px;transform:scale(1.0000,1.0400);transform-origin:0 14px;">days</span>
<span class="t" style="left:1307.66px;top:691px;font-size:16px;line-height:17px;color:#212529;letter-spacing:0.170px;transform:scale(1.0000,1.0400);transform-origin:0 14px;">ago</span>
<div class="b" style="left:278px;top:733px;width:442.044px;height:16px;background:#f8f9fa;"></div>
<span class="t" style="left:278.00px;top:735px;font-size:13.64px;line-height:15px;color:#1f2937;font-family:'Liberation Mono',monospace;transform:scale(1.0000,1.0500);transform-origin:0 11px;-webkit-text-stroke:0.1px #1f2937;">DEPRECATION WARNING: #before_filter is deprecated. Use</span>
<div class="b" style="left:278px;top:757px;width:180.09199999999998px;height:16px;background:#f8f9fa;"></div>
<span class="t" style="left:278.00px;top:759px;font-size:13.64px;line-height:15px;color:#1f2937;font-family:'Liberation Mono',monospace;transform:scale(1.0000,1.0500);transform-origin:0 11px;-webkit-text-stroke:0.1px #1f2937;">#before_action instead</span>
<span class="t" style="left:761.44px;top:733px;font-size:14px;line-height:16px;color:#495057;letter-spacing:0.280px;transform:scale(1.0000,1.0400);transform-origin:0 13px;">app/controllers/sessions_controller.rb:10:in</span>
<span class="t" style="left:761.30px;top:757px;font-size:14px;line-height:16px;color:#495057;letter-spacing:0.619px;transform:scale(1.0000,1.0400);transform-origin:0 13px;">`&lt;class&gt;'</span>
<div class="b" style="left:1113px;top:732px;width:24px;height:20px;background:#f59e0b;border-radius:5px;"></div>
<span class="t" style="left:1121.54px;top:735px;font-size:12px;line-height:14px;color:#111;font-weight:700;-webkit-text-stroke:0;transform:scale(1.0667,1.0400);transform-origin:0 11px;">3</span>
<span class="t" style="left:1229.70px;top:732px;font-size:16px;line-height:17px;color:#8b5cf6;letter-spacing:-0.320px;transform:scale(1.0000,1.0400);transform-origin:0 14px;">#125</span>
<span class="t" style="left:1263.36px;top:732px;font-size:16px;line-height:17px;color:#212529;transform:scale(1.0000,1.0400);transform-origin:0 14px;">,</span>
<span class="t" style="left:1229.70px;top:756px;font-size:16px;line-height:17px;color:#8b5cf6;letter-spacing:0.473px;transform:scale(1.0000,1.0400);transform-origin:0 14px;">#247</span>
<span class="t" style="left:1307.66px;top:732px;font-size:16px;line-height:17px;color:#212529;transform:scale(1.0000,1.0400);transform-origin:0 14px;">5</span>
<span class="t" style="left:1307.66px;top:756px;font-size:16px;line-height:17px;color:#212529;letter-spacing:-0.053px;transform:scale(1.0000,1.0400);transform-origin:0 14px;">days</span>
<span class="t" style="left:1307.66px;top:780px;font-size:16px;line-height:17px;color:#212529;letter-spacing:0.170px;transform:scale(1.0000,1.0400);transform-origin:0 14px;">ago</span>
<div class="b" style="left:0px;top:813px;width:1400px;height:87px;background:#f3f4f6;"></div>
</div>
</body></html>
